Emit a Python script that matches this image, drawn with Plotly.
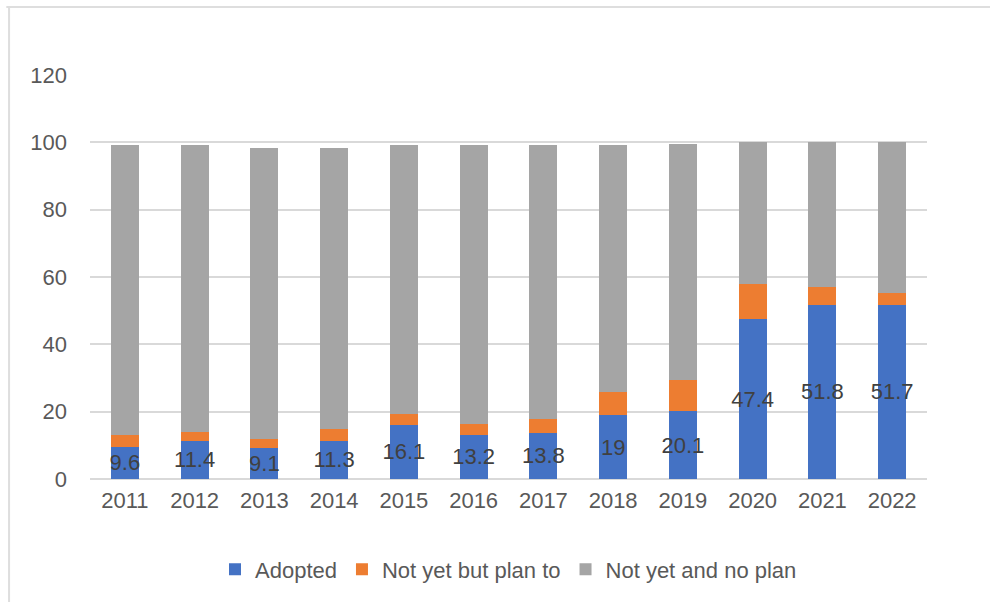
import plotly.graph_objects as go

years = ["2011", "2012", "2013", "2014", "2015", "2016",
         "2017", "2018", "2019", "2020", "2021", "2022"]
adopted = [9.6, 11.4, 9.1, 11.3, 16.1, 13.2, 13.8, 19, 20.1, 47.4, 51.8, 51.7]
plan_to = [3.6, 2.7, 2.9, 3.5, 3.3, 3.1, 4.1, 6.9, 9.2, 10.5, 5.3, 3.5]
no_plan = [86.0, 85.1, 86.4, 83.6, 79.8, 82.9, 81.3, 73.3, 70.3, 42.1, 42.9, 44.8]

y_ticks = [0, 20, 40, 60, 80, 100, 120]

FONT = "Liberation Sans"
TEXT_GREY = "#595959"
GRID = "#D9D9D9"
SIZE = 22

fig = go.Figure()

fig.add_trace(go.Bar(
    x=years, y=adopted, name="Adopted",
    marker=dict(color="#4472C4", line=dict(width=0)),
    text=[f"{v:g}" for v in adopted],
    textposition="inside", insidetextanchor="middle",
    textangle=0, constraintext="none",
    insidetextfont=dict(family=FONT, size=SIZE, color="#404040"),
))
fig.add_trace(go.Bar(
    x=years, y=plan_to, name="Not yet but plan to",
    marker=dict(color="#ED7D31", line=dict(width=0)),
))
fig.add_trace(go.Bar(
    x=years, y=no_plan, name="Not yet and no plan",
    marker=dict(color="#A5A5A5", line=dict(width=0)),
))

# light frame around the chart area
fig.add_shape(type="line", xref="paper", yref="paper",
              x0=-0.1, x1=1.2, y0=1.1686, y1=1.1686,
              line=dict(color="#DEDEDE", width=2))
fig.add_shape(type="line", xref="paper", yref="paper",
              x0=-0.0967, x1=-0.0967, y0=1.1686, y1=-0.4,
              line=dict(color="#DEDEDE", width=2))

fig.update_layout(
    width=990, height=602,
    margin=dict(l=90, r=62.6, t=75, b=122.7),
    paper_bgcolor="white", plot_bgcolor="white",
    barmode="stack", bargap=0.6,
    font=dict(family=FONT, size=SIZE, color=TEXT_GREY),
    showlegend=True,
    legend=dict(orientation="h", x=0.5, xanchor="center",
                y=-0.224, yanchor="middle",
                font=dict(family=FONT, size=SIZE, color=TEXT_GREY),
                itemwidth=30, traceorder="normal"),
    xaxis=dict(showgrid=False, showline=False, ticks="",
               tickfont=dict(family=FONT, size=SIZE, color=TEXT_GREY),
               ticklabelstandoff=6),
    yaxis=dict(range=[0, 120], tickvals=y_ticks,
               showgrid=True, gridcolor=GRID, gridwidth=1.5,
               zeroline=True, zerolinecolor=GRID, zerolinewidth=1.5,
               showline=False, ticks="",
               tickfont=dict(family=FONT, size=SIZE, color=TEXT_GREY),
               ticklabelstandoff=22),
)

fig.write_html("out.html")
